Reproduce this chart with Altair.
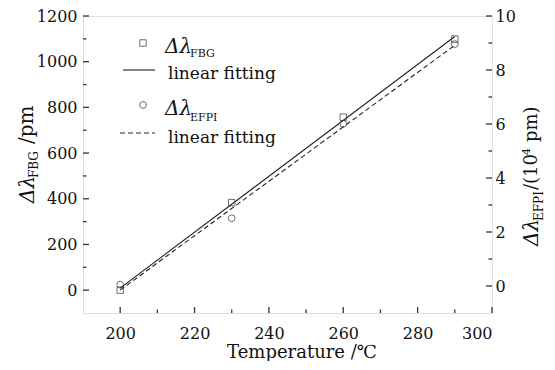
import altair as alt
import pandas as pd

# ---- data ----
temps = [200, 230, 260, 290]
fbg_pm = [0, 383, 757, 1099]            # left axis, pm
efpi_1e4pm = [0.05, 2.51, 6.01, 8.96]   # right axis, 10^4 pm

x_ticks = [200, 220, 240, 260, 280, 300]
x_minor = [210, 230, 250, 270, 290]
left_ticks = [0, 200, 400, 600, 800, 1000, 1200]
left_minor = [100, 300, 500, 700, 900, 1100]
right_ticks = [0, 2, 4, 6, 8, 10]
right_minor = [1, 3, 5, 7, 9]

df = pd.DataFrame({"t": temps, "fbg": fbg_pm, "efpi": efpi_1e4pm})

W, H = 409, 297
FONT = "DejaVu Serif"
INK = "#111111"
FRAME = "#333333"

xscale = alt.Scale(domain=[190, 300], nice=False, zero=False)
lscale = alt.Scale(domain=[-100, 1200], nice=False, zero=False)
rscale = alt.Scale(domain=[-1, 10], nice=False, zero=False)

xaxis = alt.Axis(values=x_ticks, ticks=False, domain=False, grid=False, title=None, format="d",
                 labelFont=FONT, labelFontSize=16, labelColor=INK, labelPadding=12)
laxis = alt.Axis(orient="left", values=left_ticks, ticks=False, domain=False, grid=False, format="d",
                 title=None, labelFont=FONT, labelFontSize=16, labelColor=INK, labelPadding=6)
raxis = alt.Axis(orient="right", values=right_ticks, ticks=False, domain=False, grid=False, format="d",
                 title=None, labelFont=FONT, labelFontSize=16, labelColor=INK, labelPadding=3)

X = alt.X("t:Q", scale=xscale, axis=xaxis)
base = alt.Chart(df)

fbg_pts = base.mark_point(shape="square", filled=False, size=42, stroke=FRAME, strokeWidth=1).encode(
    x=X, y=alt.Y("fbg:Q", scale=lscale, axis=laxis))
fbg_fit = base.transform_regression("t", "fbg", extent=[200, 290]).mark_line(
    color="#222", strokeWidth=1.1).encode(x=X, y=alt.Y("fbg:Q", scale=lscale, axis=laxis))

efpi_pts = base.mark_point(shape="circle", filled=False, size=46, stroke=FRAME, strokeWidth=1).encode(
    x=X, y=alt.Y("efpi:Q", scale=rscale, axis=raxis))
efpi_fit = base.transform_regression("t", "efpi", extent=[200, 290]).mark_line(
    color="#222", strokeWidth=1.1, strokeDash=[5, 3]).encode(
    x=X, y=alt.Y("efpi:Q", scale=rscale, axis=raxis))


def yticks(vals, field, scale, axis, x0, x1):
    return alt.Chart(pd.DataFrame({field: vals})).mark_rule(
        color=FRAME, strokeWidth=1.3).encode(
        y=alt.Y(field + ":Q", scale=scale, axis=axis),
        x=alt.value(x0), x2=alt.value(x1))


left_layer = alt.layer(
    fbg_fit, fbg_pts,
    yticks(left_ticks, "fbg", lscale, laxis, 0, 6),
    yticks(left_minor, "fbg", lscale, laxis, 0, 3.5),
)
right_layer = alt.layer(
    efpi_fit, efpi_pts,
    yticks(right_ticks, "efpi", rscale, raxis, W, W - 6),
    yticks(right_minor, "efpi", rscale, raxis, W, W - 3.5),
)

bt_major = alt.Chart(pd.DataFrame({"t": x_ticks})).mark_rule(color=FRAME, strokeWidth=1.3).encode(
    x=X, y=alt.value(H), y2=alt.value(H - 6))
bt_minor = alt.Chart(pd.DataFrame({"t": x_minor})).mark_rule(color=FRAME, strokeWidth=1.3).encode(
    x=X, y=alt.value(H), y2=alt.value(H - 3.5))

one = pd.DataFrame({"a": [0]})


def txt(s, x, y, size, angle=0, italic=False, align="left"):
    kw = dict(text=s, font=FONT, fontSize=size, color=INK, align=align, baseline="alphabetic")
    if angle:
        kw["angle"] = angle
    if italic:
        kw["fontStyle"] = "italic"
    return alt.Chart(one).mark_text(**kw).encode(x=alt.value(x), y=alt.value(y))


def rule(x0, x1, y, dash=None):
    kw = dict(color="#222", strokeWidth=1.1)
    if dash:
        kw["strokeDash"] = dash
    return alt.Chart(one).mark_rule(**kw).encode(x=alt.value(x0), x2=alt.value(x1), y=alt.value(y))


# legend (plot-relative positions; plot origin is at page (83, 16))
legend = alt.layer(
    alt.Chart(one).mark_point(shape="square", filled=False, size=42, stroke=FRAME, strokeWidth=1).encode(
        x=alt.value(60), y=alt.value(27)),
    txt("Δλ", 82, 37, 20, italic=True),
    txt("FBG", 107, 41, 11),
    rule(40, 72, 54),
    txt("linear fitting", 85, 63, 17),
    alt.Chart(one).mark_point(shape="circle", filled=False, size=46, stroke=FRAME, strokeWidth=1).encode(
        x=alt.value(60), y=alt.value(89)),
    txt("Δλ", 82, 99, 20, italic=True),
    txt("EFPI", 107, 105, 11),
    rule(37, 72, 117, dash=[5, 3]),
    txt("linear fitting", 85, 127, 17),
)

titles = alt.layer(
    txt("Temperature /℃", 219, 342, 18, align="center"),
    # left title (rotated)
    txt("Δλ", -49, 187, 20, angle=270, italic=True),
    txt("FBG", -45, 162, 12, angle=270),
    txt("/pm", -50, 128, 20, angle=270),
    # right title (rotated)
    txt("Δλ", 455, 230, 20, angle=270, italic=True),
    txt("EFPI", 460, 205, 12, angle=270),
    txt("/(10", 454, 174, 18, angle=270),
    txt("4", 447, 139, 11, angle=270),
    txt("pm)", 454, 126, 18, angle=270),
)

chart = alt.layer(
    left_layer, right_layer, bt_major, bt_minor, legend, titles
).resolve_scale(y="independent").properties(
    width=W, height=H,
    autosize=alt.AutoSizeParams(type="none"),
    padding={"left": 75, "top": 8, "right": 55, "bottom": 48},
).configure_view(stroke=FRAME, strokeWidth=1.7).configure(background="white")

chart.save("out.html", embed_options={"renderer": "svg", "actions": False})
